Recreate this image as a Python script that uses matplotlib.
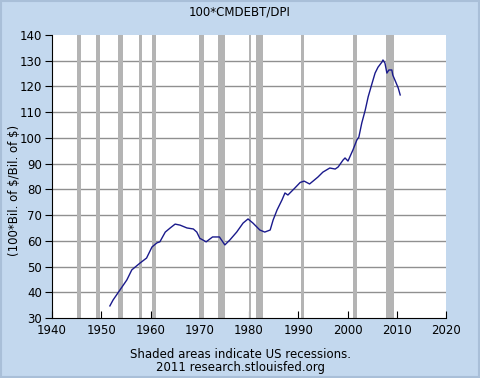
import matplotlib
matplotlib.use('Agg')
import matplotlib.pyplot as plt

# 100*CMDEBT/DPI, values
years = [1951.75, 1952.4, 1953.8, 1955.2, 1956.2, 1957.9, 1959.2, 1960.3, 1961.3, 1961.9,
         1963.0, 1964.0, 1965.0, 1966.0, 1967.4, 1968.7, 1969.4, 1970.0, 1971.3, 1972.6,
         1974.0, 1975.1, 1976.1, 1977.5, 1978.8, 1979.8, 1980.8, 1982.2, 1983.2, 1984.3,
         1984.9, 1985.7, 1986.7, 1987.3, 1987.9, 1989.3, 1990.4, 1991.2, 1992.3, 1993.0,
         1994.0, 1995.0, 1996.4, 1997.5, 1998.1, 1999.1, 1999.5, 2000.1, 2001.1, 2001.9,
         2002.3, 2002.9, 2003.6, 2004.2, 2005.0, 2005.6, 2006.2, 2007.0, 2007.2, 2007.6,
         2008.0, 2008.4, 2009.0, 2009.2, 2009.8, 2010.3, 2010.7]
values = [34.7, 37.0, 40.9, 44.8, 48.7, 51.4, 53.3, 57.6, 59.2, 59.6,
          63.4, 65.0, 66.5, 66.1, 65.0, 64.6, 63.4, 61.0, 59.6, 61.5,
          61.5, 58.4, 60.3, 63.4, 66.9, 68.5, 66.9, 64.2, 63.4, 64.2,
          68.1, 72.0, 75.9, 78.6, 77.8, 80.5, 82.7, 83.2, 82.1, 83.2,
          84.8, 86.7, 88.3, 87.9, 88.7, 91.4, 92.2, 91.0, 95.3, 99.2,
          100.3, 105.8, 110.8, 116.0, 121.3, 125.2, 127.5, 129.5, 130.3, 129.1,
          125.2, 126.4, 126.4, 124.4, 121.7, 119.4, 116.7]

# US recessions (start, end)
rec_start = [1945.1, 1948.9, 1953.5, 1957.6, 1960.3, 1969.9, 1973.8, 1980.0, 1981.5, 1990.5, 2001.2, 2007.9]
rec_end = [1945.8, 1949.8, 1954.4, 1958.3, 1961.1, 1970.9, 1975.2, 1980.5, 1982.9, 1991.2, 2001.9, 2009.5]

xticks = list(range(1940, 2021, 10))
yticks = list(range(30, 141, 10))

bg = '#C3D8EE'
fs = 8.5
fig = plt.figure(figsize=(4.8, 3.78), dpi=100, facecolor=bg)
ax = fig.add_axes([52/480, 1-318/378, 394/480, 283/378])
ax.set_facecolor('white')

for y in yticks[1:-1]:
    ax.axhline(y, color='#909090', lw=1, zorder=1)
for s, e in zip(rec_start, rec_end):
    ax.axvspan(s, e, color='#b4b4b4', lw=0, zorder=2)
ax.plot(years, values, color='#1a1a8c', lw=1, zorder=3)

ax.set_xlim(1940, 2020)
ax.set_ylim(30, 140)
ax.set_xticks(xticks)
ax.set_yticks(yticks)
ax.tick_params(axis='x', direction='in', length=5, labelsize=fs, pad=4)
ax.tick_params(axis='y', direction='out', length=5, labelsize=fs, pad=2)
ax.spines['top'].set_visible(False)
ax.spines['right'].set_visible(False)

fig.text(15/480, 1-190/378, r'(100*Bil. of \$/Bil. of \$)', rotation=90,
         ha='center', va='center', fontsize=fs)
fig.text(0.5, 1-12/378, '100*CMDEBT/DPI', ha='center', va='center', fontsize=fs)
fig.text(0.5, 1-355/378, 'Shaded areas indicate US recessions.', ha='center', va='center', fontsize=fs)
fig.text(0.5, 1-368/378, '2011 research.stlouisfed.org', ha='center', va='center', fontsize=fs)

fig.patches.append(plt.Rectangle((0.002, 0.002), 0.996, 0.996, transform=fig.transFigure,
                                 fill=False, edgecolor='#a9bfd8', lw=1.5))

fig.savefig('out.png', dpi=100, facecolor=bg)
